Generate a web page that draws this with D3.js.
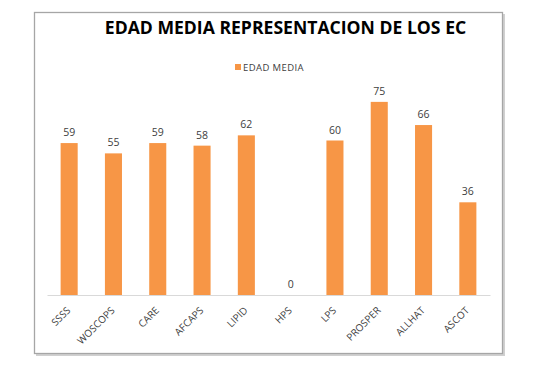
<!DOCTYPE html>
<html>
<head>
<meta charset="utf-8">
<script src="https://cdn.jsdelivr.net/npm/d3@7"></script>
<style>
  body { margin: 0; background: #fff; }
  text { font-family: "Open Sans", "Liberation Sans", sans-serif; }
</style>
</head>
<body>
<div id="chart"></div>
<script>
// data
var categories = ["SSSS", "WOSCOPS", "CARE", "AFCAPS", "LIPID", "HPS", "LPS", "PROSPER", "ALLHAT", "ASCOT"];
var edadMedia = [59, 55, 59, 58, 62, 0, 60, 75, 66, 36];
var seriesName = "EDAD MEDIA";
var chartTitle = "EDAD MEDIA REPRESENTACION DE LOS EC";

var W = 537, H = 371;
var svg = d3.select("#chart").append("svg")
    .attr("width", W)
    .attr("height", H);

// frame with a soft shadow
svg.append("rect")
    .attr("x", 36).attr("y", 14)
    .attr("width", 469).attr("height", 342)
    .attr("fill", "#d0d0d0");
svg.append("rect")
    .attr("x", 34.5).attr("y", 12.5)
    .attr("width", 468).attr("height", 341)
    .attr("fill", "#fff")
    .attr("stroke", "#a6a6a6")
    .attr("stroke-width", 1.3);

svg.append("text")
    .attr("x", 285.5).attr("y", 34)
    .attr("text-anchor", "middle")
    .attr("font-size", 17.6)
    .attr("font-weight", "bold")
    .attr("fill", "#000")
    .text(chartTitle);

// legend
var legend = svg.append("g").attr("transform", "translate(235,64)");
legend.append("rect").attr("width", 6).attr("height", 6).attr("fill", "#f79646");
legend.append("text")
    .attr("x", 8).attr("y", 6.5)
    .attr("font-size", 9.5)
    .attr("letter-spacing", 0.4)
    .attr("fill", "#404040")
    .text(seriesName);

var x = d3.scaleBand()
    .domain(categories)
    .range([47, 490])
    .paddingInner(0.615)
    .paddingOuter(0.3075);

var y = d3.scaleLinear()
    .domain([0, 80])
    .range([295, 89]);

var plot = svg.append("g");

plot.selectAll("rect.bar")
    .data(edadMedia)
    .enter().append("rect")
    .attr("class", "bar")
    .attr("x", function(d, i) { return x(categories[i]); })
    .attr("y", function(d) { return y(d); })
    .attr("width", x.bandwidth())
    .attr("height", function(d) { return y(0) - y(d); })
    .attr("fill", "#f79646");

plot.selectAll("text.val")
    .data(edadMedia)
    .enter().append("text")
    .attr("class", "val")
    .attr("x", function(d, i) { return x(categories[i]) + x.bandwidth() / 2; })
    .attr("y", function(d) { return y(d) - 7; })
    .attr("text-anchor", "middle")
    .attr("font-size", 10.5)
    .attr("fill", "#404040")
    .text(function(d) { return d; });

var axis = svg.append("g")
    .attr("transform", "translate(0," + y(0) + ")")
    .call(d3.axisBottom(x).tickSize(0).tickPadding(0));
axis.select(".domain").attr("stroke", "#d9d9d9").attr("stroke-width", 1.2);
axis.selectAll(".tick text")
    .attr("font-family", "'Open Sans', sans-serif")
    .attr("font-size", 10)
    .attr("fill", "#404040")
    .attr("text-anchor", "end")
    .attr("dy", 0)
    .attr("transform", "translate(2,16) rotate(-45)");
</script>
</body>
</html>
